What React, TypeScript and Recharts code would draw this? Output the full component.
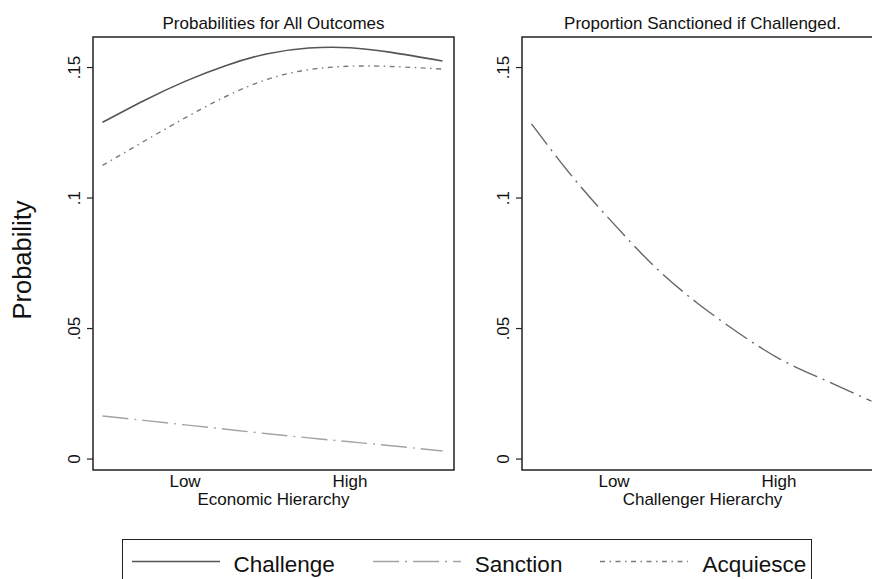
import { LineChart, Line, XAxis, YAxis, ReferenceArea } from 'recharts';

// hierarchy level (1 = Low, 2 = High)
const xLevels = [0.5, 0.75, 1.0, 1.25, 1.5, 1.75, 2.0, 2.25, 2.56];

// left panel: predicted probability of each outcome
const challenge = [0.129, 0.1373, 0.1447, 0.1508, 0.1553, 0.1575, 0.1576, 0.1558, 0.1525];
const sanction = [0.0165, 0.0148, 0.0131, 0.0114, 0.0097, 0.0081, 0.0066, 0.0051, 0.0031];
const acquiesce = [0.1125, 0.1217, 0.1307, 0.139, 0.1455, 0.1492, 0.1505, 0.1504, 0.1494];

// right panel: share sanctioned given a challenge
const sanctionShare = [0.1284, 0.108, 0.09, 0.0735, 0.06, 0.0485, 0.0385, 0.031, 0.0222];

const xTicks = [1, 2];
const xTickLabels = ['Low', 'High'];
const yTicks = [0, 0.05, 0.1, 0.15];
const yTickLabels = ['0', '.05', '.1', '.15'];

const X_DOMAIN: [number, number] = [0.4424, 2.63];
const Y_DOMAIN: [number, number] = [-0.0042, 0.1617];

const outcomeData = xLevels.map((x, i) => ({
  x,
  challenge: challenge[i],
  sanction: sanction[i],
  acquiesce: acquiesce[i],
}));
const shareData = xLevels.map((x, i) => ({ x, share: sanctionShare[i] }));

const outcomeSeries = [
  { key: 'challenge', name: 'Challenge', color: '#555555', dash: undefined, width: 1.6 },
  { key: 'sanction', name: 'Sanction', color: '#a3a3a3', dash: '26 6 2 6', width: 1.4 },
  { key: 'acquiesce', name: 'Acquiesce', color: '#7c7c7c', dash: '5 4.5 1.5 4.5', width: 1.4 },
];
const shareSeries = [{ key: 'share', name: 'Sanction', color: '#666666', dash: '26 6 2 6', width: 1.4 }];

const FRAME = '#222222';
const TEXT = '#111111';

const renderYTick = (props: any) => {
  const { x, y, payload } = props;
  const label = yTickLabels[yTicks.indexOf(payload.value)] ?? String(payload.value);
  return (
    <text
      x={x}
      y={y}
      transform={`rotate(-90 ${x} ${y})`}
      textAnchor="middle"
      fontSize={17}
      fill={TEXT}
    >
      {label}
    </text>
  );
};

interface PanelProps {
  left: number;
  width: number;
  axisWidth: number;
  marginRight: number;
  xTitle: string;
  data: any[];
  series: typeof outcomeSeries;
}

function Panel({ left, width, axisWidth, marginRight, xTitle, data, series }: PanelProps) {
  return (
    <div style={{ position: 'absolute', left, top: 0 }}>
      <LineChart
        width={width}
        height={530}
        data={data}
        margin={{ top: 37, right: marginRight, bottom: 0, left: 0 }}
      >
        <XAxis
          type="number"
          dataKey="x"
          domain={X_DOMAIN}
          ticks={xTicks}
          allowDataOverflow
          tickFormatter={(v: number) => xTickLabels[xTicks.indexOf(v)] ?? ''}
          axisLine={false}
          tickLine={false}
          tickSize={0}
          tickMargin={5}
          tick={{ fontSize: 17, fill: TEXT }}
          height={60}
          label={{ value: xTitle, position: 'insideTop', offset: 23, fontSize: 17, fill: TEXT }}
        />
        <YAxis
          type="number"
          domain={Y_DOMAIN}
          ticks={yTicks}
          allowDataOverflow
          axisLine={false}
          tickLine={{ stroke: FRAME, strokeWidth: 1.2 }}
          tickSize={6}
          tickMargin={7}
          tick={renderYTick}
          width={axisWidth}
        />
        <ReferenceArea
          x1={X_DOMAIN[0]}
          x2={X_DOMAIN[1]}
          y1={Y_DOMAIN[0]}
          y2={Y_DOMAIN[1]}
          fill="none"
          stroke={FRAME}
          strokeWidth={1.5}
          ifOverflow="visible"
        />
        {series.map(s => (
          <Line
            key={s.key}
            type="natural"
            dataKey={s.key}
            stroke={s.color}
            strokeWidth={s.width}
            strokeDasharray={s.dash}
            dot={false}
            activeDot={false}
            isAnimationActive={false}
          />
        ))}
      </LineChart>
    </div>
  );
}

export default function App() {
  return (
    <div
      style={{
        position: 'fixed',
        left: 0,
        top: 0,
        width: 872,
        height: 579,
        overflow: 'hidden',
        background: '#fff',
        fontFamily: '"Liberation Sans", Arial, sans-serif',
        color: TEXT,
      }}
    >
      <Panel
        left={0}
        width={470}
        axisWidth={93}
        marginRight={16}
        xTitle="Economic Hierarchy"
        data={outcomeData}
        series={outcomeSeries}
      />
      <Panel
        left={440}
        width={460}
        axisWidth={82}
        marginRight={17}
        xTitle="Challenger Hierarchy"
        data={shareData}
        series={shareSeries}
      />

      <svg
        width={872}
        height={579}
        style={{ position: 'absolute', left: 0, top: 0, pointerEvents: 'none' }}
      >
        <text x={273.5} y={29} textAnchor="middle" fontSize={17} fill={TEXT}>
          Probabilities for All Outcomes
        </text>
        <text x={702.5} y={29} textAnchor="middle" fontSize={17} fill={TEXT}>
          Proportion Sanctioned if Challenged.
        </text>
        <text
          x={31}
          y={260}
          transform="rotate(-90 31 260)"
          textAnchor="middle"
          fontSize={25.5}
          fill={TEXT}
        >
          Probability
        </text>
      </svg>

      <div
        style={{
          position: 'absolute',
          left: 122,
          top: 539,
          width: 690,
          height: 60,
          border: `1.5px solid ${FRAME}`,
          boxSizing: 'border-box',
          display: 'flex',
          alignItems: 'flex-start',
          paddingTop: 12,
          paddingLeft: 8.5,
        }}
      >
        {outcomeSeries.map(s => (
          <div key={s.key} style={{ display: 'flex', alignItems: 'flex-start', marginRight: 38 }}>
            <svg width={88} height={26}>
              <line
                x1={0}
                x2={88}
                y1={9.5}
                y2={9.5}
                stroke={s.color}
                strokeWidth={s.width}
                strokeDasharray={s.dash}
              />
            </svg>
            <span style={{ marginLeft: 14, fontSize: 22.5, lineHeight: '26px', whiteSpace: 'nowrap' }}>
              {s.name}
            </span>
          </div>
        ))}
      </div>
    </div>
  );
}
